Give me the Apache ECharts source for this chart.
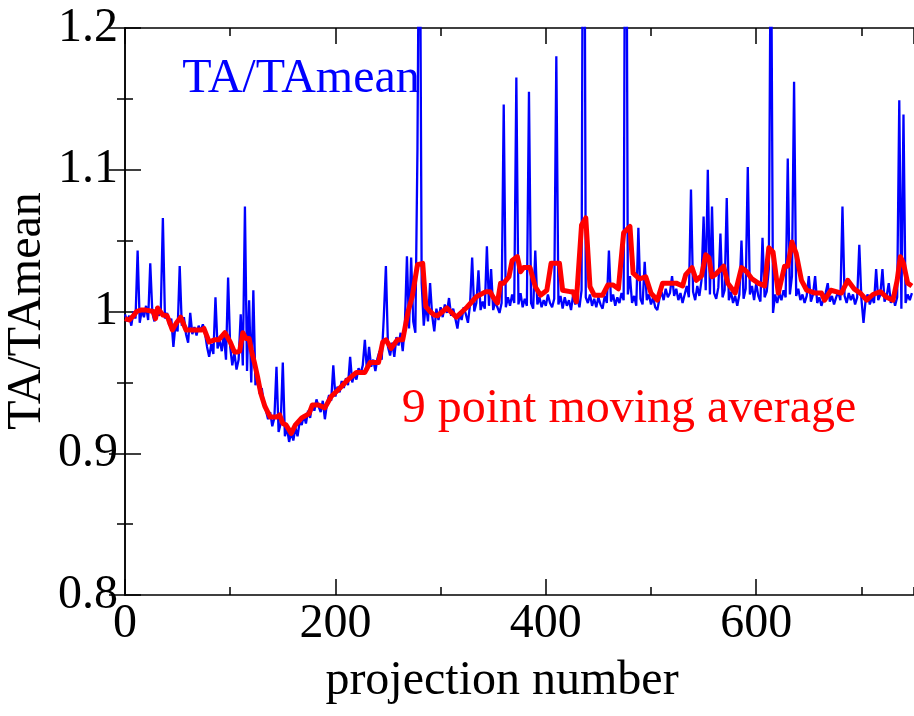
<!DOCTYPE html>
<html>
<head>
<meta charset="utf-8">
<script src="https://cdn.jsdelivr.net/npm/echarts@6/dist/echarts.min.js"></script>
<style>
  html, body { margin: 0; padding: 0; background: #fff; }
  #chart { width: 914px; height: 716px; }
</style>
</head>
<body>
<div id="chart"></div>
<script>
// TA/TAmean, one value every 2 projections starting at projection 0
var projStep = 2;
var taValues = [
  0.998, 0.993, 0.997, 0.990, 1.000, 0.995, 1.043, 0.992, 1.001, 0.996,
  1.004, 0.994, 1.034, 0.999, 0.993, 1.003, 0.997, 1.000, 1.066, 0.995,
  0.999, 0.990, 0.995, 0.975, 0.991, 0.986, 1.032, 0.990, 0.996, 0.984,
  0.978, 0.999, 0.984, 0.989, 0.983, 0.990, 0.986, 0.991, 0.985, 0.975,
  0.968, 0.977, 0.970, 1.010, 0.974, 0.980, 0.972, 0.984, 0.966, 1.024,
  0.975, 0.962, 0.971, 0.959, 0.966, 0.998, 0.962, 1.074, 0.958, 1.008,
  0.950, 1.015, 0.948, 0.955, 0.942, 0.946, 0.935, 0.930, 0.924, 0.929,
  0.919, 0.925, 0.961, 0.915, 0.921, 0.964, 0.912, 0.918, 0.908, 0.915,
  0.909, 0.918, 0.912, 0.922, 0.920, 0.927, 0.921, 0.930, 0.925, 0.935,
  0.930, 0.938, 0.933, 0.929, 0.937, 0.924, 0.935, 0.941, 0.937, 0.962,
  0.940, 0.947, 0.943, 0.951, 0.946, 0.953, 0.948, 0.968, 0.950, 0.956,
  0.952, 0.960, 0.956, 0.962, 0.980, 0.958, 0.975, 0.961, 0.966, 0.958,
  0.967, 0.972, 0.966, 0.996, 1.032, 0.975, 0.969, 0.978, 0.968, 0.982,
  0.976, 0.985, 0.972, 0.990, 1.039, 0.988, 1.038, 0.993, 0.985, 1.115,
  1.350, 1.020, 0.990, 1.006, 0.993, 1.020, 0.997, 0.986, 1.002, 0.994,
  1.003, 0.996, 1.005, 0.999, 1.0095, 0.997, 1.002, 0.995, 0.988, 0.999,
  0.994, 1.003, 0.998, 0.992, 1.005, 1.038, 1.000, 1.006, 1.029, 1.001,
  1.007, 1.002, 1.046, 1.004, 1.030, 1.001, 1.007, 1.003, 0.999, 1.006,
  1.146, 1.003, 1.010, 1.004, 1.012, 1.006, 1.165, 1.005, 1.013, 1.003,
  1.009, 1.004, 1.155, 1.006, 1.002, 1.043, 1.005, 1.010, 1.003, 1.008,
  1.004, 1.012, 1.006, 1.003, 1.009, 1.180, 1.005, 1.011, 1.002, 1.010,
  1.004, 1.008, 1.001, 1.012, 1.005, 1.009, 1.003, 1.015, 1.500, 1.010,
  1.006, 1.012, 1.004, 1.009, 1.003, 1.010, 1.005, 1.002, 1.011, 1.006,
  1.043, 1.007, 1.012, 1.004, 1.010, 1.006, 1.013, 1.008, 1.460, 1.012,
  1.025, 1.006, 1.011, 1.004, 1.059, 1.009, 1.005, 1.035, 1.008, 1.012,
  1.005, 1.010, 1.003, 1.001, 1.009, 1.014, 1.008, 1.016, 1.010, 1.013,
  1.025, 1.011, 1.016, 1.008, 1.013, 1.006, 1.012, 1.018, 1.010, 1.086,
  1.014, 1.008, 1.018, 1.011, 1.022, 1.067, 1.015, 1.100, 1.012, 1.074,
  1.013, 1.009, 1.017, 1.055, 1.010, 1.015, 1.080, 1.008, 1.014, 1.006,
  1.011, 1.004, 1.012, 1.050, 1.009, 1.016, 1.102, 1.012, 1.018, 1.008,
  1.020, 1.011, 1.007, 1.052, 1.010, 1.014, 1.030, 1.300, 0.999, 1.012,
  1.006, 1.013, 1.008, 1.015, 1.010, 1.108, 1.012, 1.025, 1.162, 1.011,
  1.016, 1.008, 1.012, 1.006, 1.011, 1.025, 1.007, 1.012, 1.025, 1.006,
  1.010, 1.004, 1.009, 1.013, 1.020, 1.007, 1.011, 1.005, 1.010, 1.014,
  1.008, 1.074, 1.011, 1.006, 1.013, 1.008, 1.012, 1.005, 1.010, 1.047,
  1.009, 0.992, 1.008, 1.012, 1.005, 1.010, 1.006, 1.030, 1.008, 1.012,
  1.030, 1.007, 1.011, 1.020, 1.006, 1.012, 1.004, 1.010, 1.149, 1.002,
  1.139, 1.006, 1.012, 1.008, 1.013
];

// 9 point moving average, [projection, value]
var maPoints = [
  [0, 0.995], [4, 0.994], [8, 0.997], [11, 1.000], [15, 1.001], [20, 1.001],
  [27, 1.000], [29, 0.995], [31, 1.0025], [36, 0.9975], [40, 0.997], [45, 0.987],
  [49, 0.992], [53, 0.996], [58, 0.987], [65, 0.987], [73, 0.987], [75, 0.988],
  [80, 0.9785], [85, 0.980], [89, 0.980], [95, 0.985], [100, 0.9785], [104, 0.9715],
  [107, 0.9715], [109, 0.972], [112, 0.985], [115, 0.981], [118, 0.981], [120, 0.973],
  [123, 0.964], [126, 0.954], [129, 0.9425], [133, 0.933], [138, 0.9255], [144, 0.9255],
  [147, 0.927], [150, 0.921], [153, 0.920], [158, 0.914], [162, 0.920], [168, 0.925],
  [175, 0.928], [178, 0.934], [184, 0.934], [190, 0.932], [196, 0.940], [203, 0.945],
  [212, 0.952], [220, 0.957], [228, 0.957], [233, 0.964], [241, 0.964], [245, 0.9785],
  [248, 0.980], [253, 0.974], [259, 0.980], [264, 0.980], [269, 0.9997], [273, 1.0104],
  [278, 1.033], [283, 1.034], [286, 1.0034], [290, 1.000], [294, 0.9975], [297, 0.997],
  [306, 1.0025], [315, 0.996], [325, 1.003], [334, 1.0104], [343, 1.014], [347, 1.014],
  [350, 1.010], [354, 1.006], [357, 1.020], [360, 1.020], [365, 1.0245], [368, 1.036],
  [373, 1.0387], [376, 1.028], [379, 1.031], [385, 1.031], [390, 1.0175], [395, 1.0115],
  [401, 1.015], [405, 1.034], [413, 1.034], [416, 1.015], [423, 1.014], [426, 1.014],
  [429, 1.0069], [434, 1.061], [438, 1.066], [442, 1.0175], [446, 1.0115], [454, 1.0115],
  [459, 1.0187], [464, 1.0187], [469, 1.016], [474, 1.0556], [480, 1.060], [483, 1.027],
  [489, 1.023], [495, 1.0245], [500, 1.013], [506, 1.008], [511, 1.020], [524, 1.020],
  [530, 1.018], [533, 1.026], [539, 1.031], [543, 1.022], [548, 1.025], [552, 1.040],
  [555, 1.038], [558, 1.0245], [561, 1.026], [569, 1.032], [573, 1.020], [580, 1.013],
  [586, 1.031], [591, 1.028], [596, 1.023], [602, 1.020], [608, 1.018], [612, 1.045],
  [616, 1.042], [621, 1.013], [627, 1.032], [630, 1.032], [634, 1.049], [638, 1.041],
  [643, 1.022], [648, 1.015], [656, 1.013], [662, 1.013], [665, 1.008], [671, 1.015],
  [681, 1.013], [687, 1.022], [693, 1.016], [699, 1.013], [705, 1.008], [711, 1.012],
  [718, 1.014], [724, 1.010], [730, 1.008], [734, 1.022], [737, 1.0387], [740, 1.034],
  [744, 1.020], [748, 1.018]
];

var xMin = 0, xMax = 750, xMajor = 200, xMinor = 100;
var yMin = 0.8, yMax = 1.2, yMajor = 0.1;

var taData = taValues.map(function (v, i) { return [i * projStep, v]; });

var font = '"Liberation Serif", "Times New Roman", serif';
var axisColor = '#000';

function xAxisDef(pos, interval, tickLen, withLabels, withLine) {
  return {
    type: 'value',
    position: pos,
    min: xMin,
    max: xMax,
    interval: interval,
    axisLine: { show: withLine, lineStyle: { color: axisColor, width: 1.5 } },
    axisTick: { show: true, inside: true, length: tickLen, lineStyle: { color: axisColor, width: 1.5 } },
    axisLabel: {
      show: withLabels,
      showMaxLabel: false,
      margin: 5,
      color: '#000',
      fontFamily: font,
      fontSize: 48,
      lineHeight: 48
    },
    splitLine: { show: false }
  };
}

function yAxisDef(pos, withLabels) {
  return {
    type: 'value',
    position: pos,
    min: yMin,
    max: yMax,
    interval: yMajor,
    axisLine: { show: true, lineStyle: { color: axisColor, width: 1.5 } },
    axisTick: { show: true, inside: true, length: 16, lineStyle: { color: axisColor, width: 1.5 } },
    minorTick: { show: true, splitNumber: 2, length: 8, lineStyle: { color: axisColor, width: 1.5 } },
    axisLabel: {
      show: withLabels,
      margin: 7,
      color: '#000',
      fontFamily: font,
      fontSize: 48
    },
    splitLine: { show: false },
    minorSplitLine: { show: false }
  };
}

function label(text, x, y, color, rot) {
  return {
    type: 'text',
    x: x,
    y: y,
    rotation: rot || 0,
    style: {
      text: text,
      fill: color,
      font: '48px ' + font,
      align: 'center',
      verticalAlign: 'middle',
      textAlign: 'center',
      textVerticalAlign: 'middle'
    }
  };
}

var chart = echarts.init(document.getElementById('chart'));
chart.setOption({
  animation: false,
  backgroundColor: '#fff',
  grid: { left: 125, top: 28, width: 794, height: 567 },
  xAxis: [
    xAxisDef('bottom', xMajor, 16, true, true),
    xAxisDef('bottom', xMinor, 8, false, false),
    xAxisDef('top', xMajor, 16, false, true),
    xAxisDef('top', xMinor, 8, false, false)
  ],
  yAxis: [
    yAxisDef('left', true),
    yAxisDef('right', false)
  ],
  series: [
    {
      name: 'TA/TAmean',
      type: 'line',
      data: taData,
      showSymbol: false,
      symbol: 'none',
      clip: true,
      lineStyle: { color: '#0000ff', width: 2.3 },
      z: 2
    },
    {
      name: '9 point moving average',
      type: 'line',
      data: maPoints,
      showSymbol: false,
      symbol: 'none',
      clip: true,
      lineStyle: { color: '#ff0000', width: 5, join: 'round' },
      z: 3
    }
  ],
  graphic: [
    label('TA/TAmean', 301, 79, '#0000ff'),
    label('9 point moving average', 629, 409, '#ff0000'),
    label('projection number', 502, 681, '#000'),
    label('TA/TAmean', 27, 311, '#000', Math.PI / 2)
  ]
});
</script>
</body>
</html>
